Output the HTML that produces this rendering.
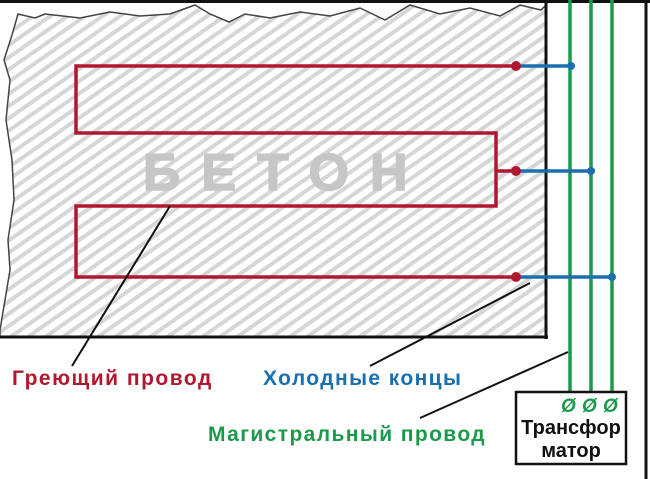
<!DOCTYPE html>
<html><head><meta charset="utf-8"><style>
html,body{margin:0;padding:0;background:#fff;}
svg{display:block;}
text{font-family:"Liberation Sans",sans-serif;font-weight:bold;}
</style></head><body>
<svg width="650" height="479" viewBox="0 0 650 479" xmlns="http://www.w3.org/2000/svg">
<defs>
<pattern id="h" patternUnits="userSpaceOnUse" width="10" height="10" patternTransform="rotate(-35)">
<rect width="10" height="10" fill="#fff"/>
<rect width="10" height="4" fill="#d6d6d6"/>
</pattern>
</defs>
<path d="M0,337 L0,330 L5,300 L10,270 L8,240 L14,200 L12,160 L6,120 L10,80 L4,60 L12,35 L18,14 L35,18 L45,14 L80,18 L110,12 L140,16 L170,14 L195,5 L210,14 L229,22 L245,14 L270,18 L300,12 L330,16 L360,8 L385,20 L410,5 L440,14 L470,8 L500,16 L520,5 L541,10 L546,5 L546,337 Z" fill="url(#h)" stroke="#444" stroke-width="1.5"/>
<line x1="546" y1="0" x2="546" y2="339" stroke="#111" stroke-width="3"/>
<line x1="0" y1="337" x2="548" y2="337" stroke="#111" stroke-width="3"/>
<line x1="0" y1="1.5" x2="650" y2="1.5" stroke="#111" stroke-width="3"/>
<line x1="646" y1="0" x2="646" y2="479" stroke="#111" stroke-width="3"/>
<text x="143" y="190" font-size="52" fill="#c6c6c6" letter-spacing="21" stroke="#c6c6c6" stroke-width="1.5">БЕТОН</text>
<polyline points="516,66 76,66 76,133 496,133 496,206 76,206 76,277 516,277" fill="none" stroke="#b0182f" stroke-width="3.5"/>
<line x1="496" y1="171" x2="516" y2="171" stroke="#b0182f" stroke-width="3.5"/>
<g stroke="#1a9a4a" stroke-width="3.5">
<line x1="570" y1="0" x2="570" y2="405"/>
<line x1="591" y1="0" x2="591" y2="405"/>
<line x1="612" y1="0" x2="612" y2="405"/>
</g>
<g stroke="#1a6fb0" stroke-width="3.5">
<line x1="516" y1="66" x2="571" y2="66"/>
<line x1="516" y1="171" x2="591" y2="171"/>
<line x1="516" y1="277" x2="612" y2="277"/>
</g>
<g fill="#b0182f"><circle cx="516" cy="66" r="5"/><circle cx="516" cy="171" r="5"/><circle cx="516" cy="277" r="5"/></g>
<g fill="#1a6fb0"><circle cx="571" cy="66" r="4"/><circle cx="591" cy="171" r="4"/><circle cx="612" cy="277" r="4"/></g>
<g stroke="#111" stroke-width="2">
<line x1="170" y1="206" x2="72" y2="366"/>
<line x1="530" y1="283" x2="370" y2="366"/>
<line x1="568" y1="352" x2="420" y2="418"/>
</g>
<rect x="516" y="392" width="110" height="72" fill="#fff" stroke="#111" stroke-width="2.5"/>
<g font-size="19" fill="#1a9a4a" font-style="italic"><text x="561" y="412">Ø</text><text x="582" y="412">Ø</text><text x="603" y="412">Ø</text></g>
<text x="571" y="434" font-size="20" fill="#111" text-anchor="middle">Трансфор</text>
<text x="571" y="457" font-size="20" fill="#111" text-anchor="middle">матор</text>
<text x="12" y="385" font-size="21" fill="#b0182f" letter-spacing="1.5">Греющий провод</text>
<text x="263" y="385" font-size="21" fill="#1a6fb0" letter-spacing="1.4">Холодные концы</text>
<text x="208" y="441" font-size="21" fill="#1a9a4a" letter-spacing="1.4">Магистральный провод</text>
</svg>
</body></html>
